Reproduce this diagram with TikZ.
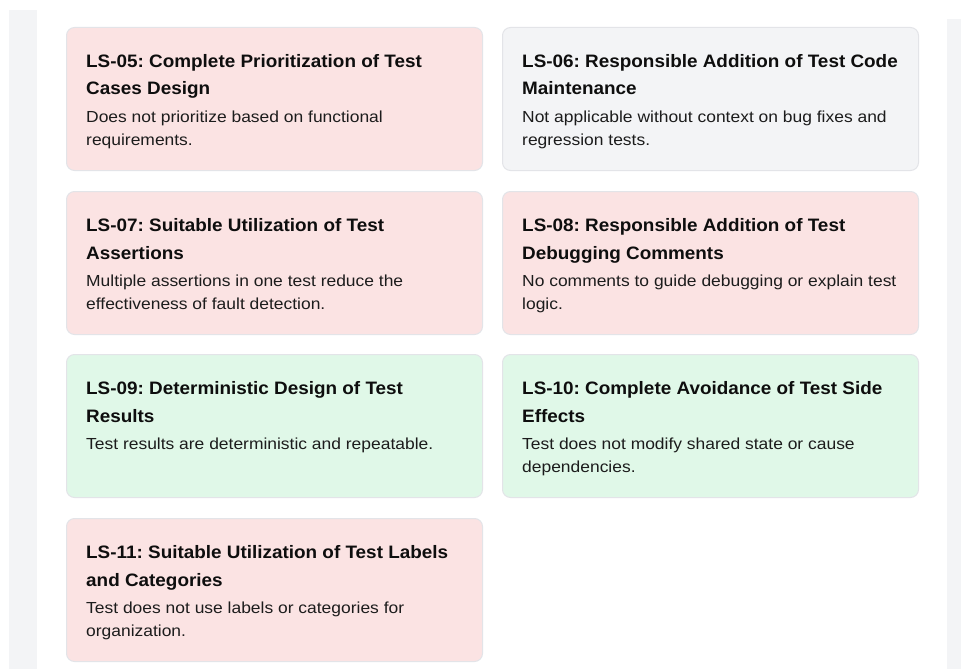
\documentclass[tikz,border=0pt]{standalone}
\usepackage{fontspec}
\setmainfont{Liberation Sans}
\newfontfamily\tfont[FakeStretch=1.05]{Liberation Sans}
\newfontfamily\bfont[FakeStretch=1.09]{Liberation Sans}
\definecolor{stripcol}{HTML}{F3F4F6}
\definecolor{redfill}{HTML}{FBE3E3}
\definecolor{grayfill}{HTML}{F3F4F6}
\definecolor{greenfill}{HTML}{E0F8E8}
\definecolor{cardline}{HTML}{E3E4E8}
\definecolor{titlecol}{HTML}{0E0E0E}
\definecolor{bodycol}{HTML}{1C1C1C}
\tikzset{
  card/.style={draw=cardline, line width=1pt, rounded corners=8pt,
    minimum width=416pt, minimum height=143pt, inner sep=0pt, anchor=north west},
  ttl/.style={anchor=base west, inner sep=0pt, text=titlecol,
    font=\frenchspacing\tfont\bfseries\fontsize{18}{22}\selectfont},
  dsc/.style={anchor=base west, inner sep=0pt, text=bodycol,
    font=\frenchspacing\bfont\fontsize{16}{20}\selectfont}
}
\newcommand\lscard[8]{%
  \node[card, fill=#4] (#1) at (#2,#3) {};
  \node[ttl] (#1t1) at ([xshift=20pt,yshift=-40pt]#1.north west) {#5};
  \node[ttl] (#1t2) at ([xshift=20pt,yshift=-68pt]#1.north west) {#6};
  \node[dsc] (#1b1) at ([xshift=20pt,yshift=-95pt]#1.north west) {#7};
  \if\relax\detokenize{#8}\relax\else
  \node[dsc] (#1b2) at ([xshift=20pt,yshift=-118pt]#1.north west) {#8};
  \fi
}
\begin{document}
\begin{tikzpicture}[x=1pt,y=-1pt]
\useasboundingbox (0,0) rectangle (961,669);
\fill[white] (0,0) rectangle (961,669);
\fill[stripcol] (9,10) rectangle (37,669);
\fill[stripcol] (947,19) rectangle (961,669);
\lscard{c5}{66}{27}{redfill}{LS-05: Complete Prioritization of Test}{Cases Design}{Does not prioritize based on functional}{requirements.}
\lscard{c6}{502}{27}{grayfill}{LS-06: Responsible Addition of Test Code}{Maintenance}{Not applicable without context on bug fixes and}{regression tests.}
\lscard{c7}{66}{191}{redfill}{LS-07: Suitable Utilization of Test}{Assertions}{Multiple assertions in one test reduce the}{effectiveness of fault detection.}
\lscard{c8}{502}{191}{redfill}{LS-08: Responsible Addition of Test}{Debugging Comments}{No comments to guide debugging or explain test}{logic.}
\lscard{c9}{66}{354}{greenfill}{LS-09: Deterministic Design of Test}{Results}{Test results are deterministic and repeatable.}{}
\lscard{c10}{502}{354}{greenfill}{LS-10: Complete Avoidance of Test Side}{Effects}{Test does not modify shared state or cause}{dependencies.}
\lscard{c11}{66}{518}{redfill}{LS-11: Suitable Utilization of Test Labels}{and Categories}{Test does not use labels or categories for}{organization.}
\end{tikzpicture}
\end{document}
